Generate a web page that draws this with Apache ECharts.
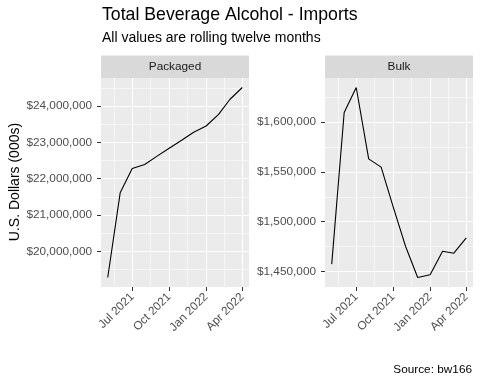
<!DOCTYPE html>
<html><head><meta charset="utf-8">
<script src="https://cdn.jsdelivr.net/npm/echarts@6/dist/echarts.min.js"></script>
<style>html,body{margin:0;padding:0;background:#fff}#c{width:480px;height:384px}</style>
</head><body><div id="c"></div>
<script>
const months = ['2021-05-01','2021-06-01','2021-07-01','2021-08-01','2021-09-01','2021-10-01','2021-11-01','2021-12-01','2022-01-01','2022-02-01','2022-03-01','2022-04-01'];
const packaged = [19280000,21610000,22280000,22390000,22620000,22840000,23060000,23280000,23450000,23770000,24180000,24510000];
const bulk = [1457400,1609700,1634800,1563100,1554800,1515000,1475100,1444000,1446700,1470400,1468400,1483800];
const xTickDates = ['2021-07-01','2021-10-01','2022-01-01','2022-04-01'];
const xTickLabels = ['Jul 2021','Oct 2021','Jan 2022','Apr 2022'];
const packagedTicks = [20000000,21000000,22000000,23000000,24000000];
const bulkTicks = [1450000,1500000,1550000,1600000];
const panels = ['Packaged','Bulk'];

const FONT = 'Liberation Sans';
const ts = s => { const p = s.split('-').map(Number); return Date.UTC(p[0], p[1]-1, p[2]); };
const xs = months.map(ts);
const xTicks = xTickDates.map(ts);
const xLabelMap = {}; xTicks.forEach((t,i)=>xLabelMap[t]=xTickLabels[i]);
function expand(arr){ const lo=Math.min(...arr), hi=Math.max(...arr), r=hi-lo; return [lo-0.05*r, hi+0.05*r]; }
function minors(ticks, lo, hi){
  const step = ticks[1]-ticks[0]; const out=[];
  for (let v = ticks[0]-step/2; v <= hi; v += step) if (v >= lo) out.push(v);
  return out;
}
function minorsX(ticks, lo, hi){
  const out=[];
  const all=[ticks[0]-(ticks[1]-ticks[0])].concat(ticks).concat([ticks[ticks.length-1]+(ticks[1]-ticks[0])]);
  for(let i=0;i<all.length-1;i++){const m=(all[i]+all[i+1])/2; if(m>=lo&&m<=hi) out.push(m);}
  return out;
}
const xr = expand(xs);
const yr = [expand(packaged), expand(bulk)];
const yTicks = [packagedTicks, bulkTicks];
const fmt = v => '$' + Math.round(v).toString().replace(/\B(?=(\d{3})+(?!\d))/g, ',');

const gridPos = [{left:101, top:78, width:148, height:209},{left:325, top:78, width:148, height:209}];
const grids=[], xAxes=[], yAxes=[], series=[], graphics=[];
panels.forEach((name, i) => {
  grids.push(Object.assign({show:true, backgroundColor:'#EBEBEB', borderWidth:0, containLabel:false}, gridPos[i]));
  xAxes.push({type:'value', gridIndex:i, min:xr[0], max:xr[1],
    axisLine:{show:false},
    axisTick:{show:true, customValues:xTicks, length:4, lineStyle:{color:'#333333', width:1}},
    axisLabel:{show:true, customValues:xTicks, rotate:45, margin:8, color:'#4D4D4D', fontSize:11.8, fontFamily:FONT,
      formatter:v=>xLabelMap[v]||''},
    splitLine:{show:true, lineStyle:{color:'#ffffff', width:1.1}}, z:1});
  xAxes.push({type:'value', gridIndex:i, min:xr[0], max:xr[1],
    axisLine:{show:false}, axisLabel:{show:false},
    axisTick:{show:false, customValues:minorsX(xTicks, xr[0], xr[1])},
    splitLine:{show:true, lineStyle:{color:'#ffffff', width:0.55}}, z:0});
  yAxes.push({type:'value', gridIndex:i, min:yr[i][0], max:yr[i][1],
    axisLine:{show:false},
    axisTick:{show:true, customValues:yTicks[i], length:4, lineStyle:{color:'#333333', width:1}},
    axisLabel:{show:true, customValues:yTicks[i], margin:9, color:'#4D4D4D', fontSize:11.8, fontFamily:FONT, formatter:fmt},
    splitLine:{show:true, lineStyle:{color:'#ffffff', width:1.1}}, z:1});
  yAxes.push({type:'value', gridIndex:i, min:yr[i][0], max:yr[i][1],
    axisLine:{show:false}, axisLabel:{show:false},
    axisTick:{show:false, customValues:minors(yTicks[i], yr[i][0], yr[i][1])},
    splitLine:{show:true, lineStyle:{color:'#ffffff', width:0.55}}, z:0});
  const vals = i===0 ? packaged : bulk;
  series.push({type:'line', xAxisIndex:2*i, yAxisIndex:2*i, data:xs.map((t,k)=>[t, vals[k]]),
    showSymbol:false, symbol:'none', lineStyle:{color:'#000000', width:1.1}, z:5, animation:false});
  const g = gridPos[i];
  graphics.push({type:'rect', shape:{x:g.left, y:55.5, width:g.width, height:22.5}, style:{fill:'#D9D9D9'}});
  graphics.push({type:'text', x:g.left+g.width/2, y:67, style:{text:name, fill:'#1A1A1A', font:'11.8px "'+FONT+'"', align:'center', verticalAlign:'middle'}});
});
graphics.push({type:'text', x:15, y:182, rotation:Math.PI/2, style:{text:'U.S. Dollars (000s)', fill:'#000000', font:'14px "'+FONT+'"', align:'center', verticalAlign:'middle'}});
graphics.push({type:'text', x:102, y:14.8, style:{text:'Total Beverage Alcohol - Imports', fill:'#000000', font:'17.7px "'+FONT+'"', align:'left', verticalAlign:'middle'}});
graphics.push({type:'text', x:102, y:38, style:{text:'All values are rolling twelve months', fill:'#000000', font:'14px "'+FONT+'"', align:'left', verticalAlign:'middle'}});
graphics.push({type:'text', x:472, y:370, style:{text:'Source: bw166', fill:'#000000', font:'11.8px "'+FONT+'"', align:'right', verticalAlign:'middle'}});

const chart = echarts.init(document.getElementById('c'), null, {renderer:'canvas'});
chart.setOption({animation:false, backgroundColor:'#ffffff', grid:grids, xAxis:xAxes, yAxis:yAxes, series:series, graphic:graphics});
</script></body></html>
